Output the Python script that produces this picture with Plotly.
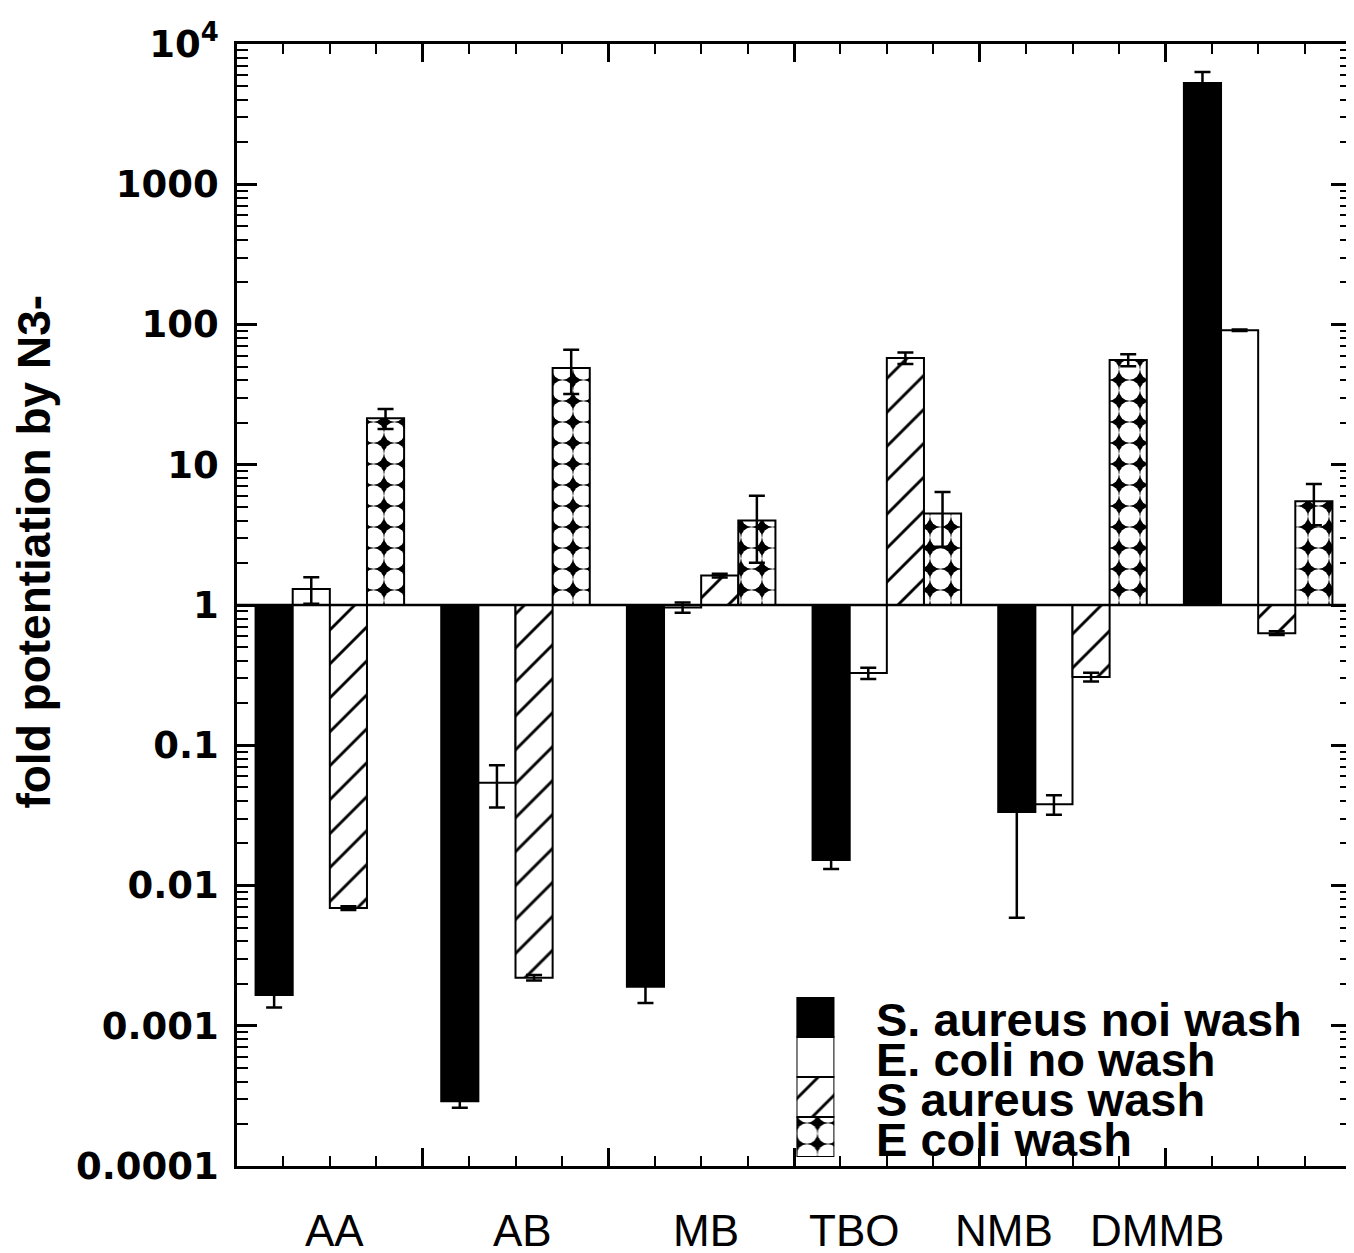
import plotly.graph_objects as go

# ---------------- data ----------------
categories = ["AA", "AB", "MB", "TBO", "NMB", "DMMB"]
series_names = ["S. aureus noi wash", "E. coli no wash", "S aureus wash", "E coli wash"]

sa_nowash = [0.00166, 0.00029, 0.0019, 0.0152, 0.0334, 5270]
sa_nowash_err = [0.00031, 0.00003, 0.00045, 0.0021, 0.0275, 1050]
ec_nowash = [1.30, 0.054, 0.96, 0.327, 0.038, 91]
ec_nowash_err = [0.28, 0.018, 0.08, 0.03, 0.006, 1.0]
sa_wash = [0.0069, 0.0022, 1.62, 57.7, 0.307, 0.63]
sa_wash_err = [0.0002, 0.0001, 0.05, 5.5, 0.022, 0.02]
ec_wash = [21.5, 49, 4.0, 4.5, 55.8, 5.5]
ec_wash_err = [3.5, 17, 2.0, 1.9, 5.5, 1.8]

y_tickvals = [1e-4, 1e-3, 1e-2, 0.1, 1, 10, 100, 1000, 1e4]
y_ticktext = ["0.0001", "0.001", "0.01", "0.1", "1", "10", "100", "1000", "10<sup>4</sup>"]
y_title = "fold potentiation by N3-"
baseline = 1.0

# ---------------- layout geometry ----------------
# the page body has an 8px default margin; figure is sized to compensate
OFF = 8
W, H = 1354 - OFF, 1253 - OFF
ML, MR, MT, MB_ = 236 - OFF + 1, 0, 44 - OFF, 87
PW, PH = W - ML - MR, H - MT - MB_


def px(x):
    return (x - OFF - ML) / PW


def py(y):
    return (H - MB_ - (y - OFF)) / PH


series_vals = [sa_nowash, ec_nowash, sa_wash, ec_wash]
series_errs = [sa_nowash_err, ec_nowash_err, sa_wash_err, ec_wash_err]

line_style = dict(color="black", width=2)
styles = [
    dict(color="black", line=line_style),
    dict(color="white", line=line_style),
    dict(color="white", line=line_style,
         pattern=dict(shape="/", fgcolor="black", bgcolor="white", size=24,
                      solidity=0.12, fillmode="replace")),
    dict(color="white", line=line_style,
         pattern=dict(shape=".", fgcolor="white", bgcolor="black", size=21,
                      solidity=0.76, fillmode="replace")),
]

fig = go.Figure()
for name, vals, errs, st in zip(series_names, series_vals, series_errs, styles):
    fig.add_trace(go.Bar(
        x=categories,
        y=[v - baseline for v in vals],
        base=baseline,
        name=name,
        marker=st,
        error_y=dict(type="data", array=errs, color="black", thickness=2.5, width=8),
        showlegend=False,
        xaxis="x", yaxis="y",
    ))

# custom legend swatches (stacked boxes) on a hidden overlay axis
for k, (name, st) in enumerate(zip(series_names, styles)):
    fig.add_trace(go.Bar(
        x=[0], y=[1], base=[len(series_names) - 1 - k],
        width=1, offset=-0.5, marker=st, showlegend=False,
        hoverinfo="skip", xaxis="x3", yaxis="y3",
    ))

# empty traces so the tick-only frame axes (bottom/top/right) get drawn
for xa, ya in [("x2", "y"), ("x4", "y"), ("x", "y2")]:
    fig.add_trace(go.Scatter(x=[], y=[], xaxis=xa, yaxis=ya, showlegend=False,
                             hoverinfo="skip"))

minor_y = [m * 10.0 ** e for e in range(-4, 4) for m in range(2, 10)]

annotations = []
label_x = [335, 523, 707, 856, 1006, 1159]
for cat, lx in zip(categories, label_x):
    annotations.append(dict(
        text=cat, xref="paper", yref="paper", x=px(lx), y=py(1204),
        xanchor="center", yanchor="top", showarrow=False,
        font=dict(family="Liberation Sans Narrow, Liberation Sans, Arial", size=44, color="black"),
    ))
legend_y = [1019, 1059, 1099, 1139]
for name, ly in zip(series_names, legend_y):
    annotations.append(dict(
        text=name, xref="paper", yref="paper", x=px(876), y=py(ly),
        xanchor="left", yanchor="middle", showarrow=False,
        font=dict(family="Liberation Sans, Arial", size=47, color="black", weight="bold"),
    ))
annotations.append(dict(
    text=y_title, xref="paper", yref="paper", x=px(33), y=py(552),
    xanchor="center", yanchor="middle", textangle=-90, showarrow=False,
    font=dict(family="Liberation Sans, Arial", size=46, color="black", weight="bold"),
))

n = len(categories)
xtick_common = dict(range=[0, n], tickmode="linear", tick0=0, dtick=1, ticks="inside",
                    ticklen=18, tickwidth=2.5, tickcolor="black", showticklabels=False,
                    showgrid=False, zeroline=False, showline=False, fixedrange=True,
                    minor=dict(dtick=0.25, tick0=0, ticks="inside", ticklen=10,
                               tickwidth=2, tickcolor="black", showgrid=False))
ytick_common = dict(type="log", range=[-4, 4], tickmode="array", tickvals=y_tickvals,
                    ticks="inside", ticklen=20, tickwidth=2.5, tickcolor="black",
                    showgrid=False, zeroline=False, fixedrange=True,
                    minor=dict(tickmode="array", tickvals=minor_y, ticks="inside",
                               ticklen=11, tickwidth=2, tickcolor="black", showgrid=False))

fig.update_layout(
    width=W, height=H,
    margin=dict(l=ML, r=MR, t=MT, b=MB_, pad=0),
    paper_bgcolor="white", plot_bgcolor="white",
    barmode="group", bargap=0.2, bargroupgap=0.0,
    showlegend=False,
    xaxis=dict(type="category", range=[-0.5, n - 0.5],
               showticklabels=False, ticks="", showgrid=False, zeroline=False,
               showline=True, linecolor="black", linewidth=2.5, mirror=True,
               fixedrange=True),
    xaxis2=dict(overlaying="x", anchor="y", side="bottom", **xtick_common),
    xaxis4=dict(overlaying="x", anchor="y", side="top", **xtick_common),
    yaxis=dict(ticktext=y_ticktext, showline=True, linecolor="black", linewidth=2.5,
               mirror=True, ticklabelstandoff=8,
               tickfont=dict(family="DejaVu Sans", size=37, color="black", weight="bold"),
               **ytick_common),
    yaxis2=dict(overlaying="y", anchor="x", side="right", showticklabels=False,
                showline=False, **ytick_common),
    xaxis3=dict(domain=[px(798), px(836)], range=[-0.5, 0.5], anchor="y3", visible=False,
                fixedrange=True),
    yaxis3=dict(domain=[py(1157), py(997)], range=[0, len(series_names)], anchor="x3",
                visible=False, fixedrange=True),
    annotations=annotations,
    shapes=[dict(type="line", xref="paper", yref="paper", x0=0, x1=1, y0=0.5, y1=0.5,
                 line=dict(color="black", width=2.5))],  # y = 1 on the [-4, 4] log range
)

fig.write_html("out.html")
